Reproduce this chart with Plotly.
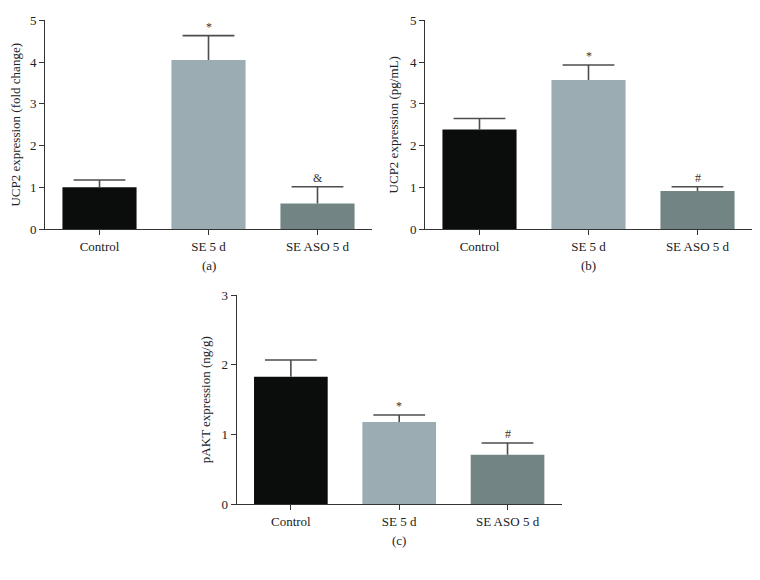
import plotly.graph_objects as go

categories = ["Control", "SE 5 d", "SE ASO 5 d"]
colors = ["#0b0d0c", "#9badb3", "#728584"]

a_values = [1.01, 4.05, 0.62]
a_err_top = [1.18, 4.63, 1.02]
a_marks = ["", "*", "&"]

b_values = [2.39, 3.57, 0.92]
b_err_top = [2.65, 3.93, 1.02]
b_marks = ["", "*", "#"]

c_values = [1.83, 1.18, 0.71]
c_err_top = [2.07, 1.28, 0.88]
c_marks = ["", "*", "#"]

a_ticks = [0, 1, 2, 3, 4, 5]
b_ticks = [0, 1, 2, 3, 4, 5]
c_ticks = [0, 1, 2, 3]

FONT = "Liberation Serif"
OFF = 8  # browser body margin
W, H = 760 - 2 * OFF, 580 - 2 * OFF
ERRC = "#4d4d4d"


def fx(p):
    return (p - OFF) / W


def fy(p):
    return 1 - (p - OFF) / H


fig = go.Figure()

panels = [
    ("x", "y", a_values, a_err_top, a_marks, a_ticks, "UCP2 expression (fold change)", "(a)",
     (45, 372), (13.3, 228.3)),
    ("x2", "y2", b_values, b_err_top, b_marks, b_ticks, "UCP2 expression (pg/mL)", "(b)",
     (425, 752), (13.3, 228.3)),
    ("x3", "y3", c_values, c_err_top, c_marks, c_ticks, "pAKT expression (ng/g)", "(c)",
     (236.7, 561.7), (295.7, 510.7)),
]

for i, (xa, ya, vals, errtop, marks, ticks, ytitle, letter, xpx, ypx) in enumerate(panels):
    up = [e - v for e, v in zip(errtop, vals)]
    fig.add_trace(go.Bar(
        x=categories, y=vals, xaxis=xa, yaxis=ya,
        marker=dict(color=colors, line=dict(width=0)),
        error_y=dict(type="data", symmetric=False, array=up, arrayminus=[0] * len(vals),
                     color=ERRC, thickness=1.6, width=0),
        showlegend=False, hoverinfo="skip",
    ))
    # caps of the error bars
    fig.add_trace(go.Scatter(
        x=categories, y=errtop, xaxis=xa, yaxis=ya, mode="markers",
        marker=dict(symbol="line-ew", size=37, color=ERRC, line=dict(width=1.6, color=ERRC)),
        showlegend=False, hoverinfo="skip", cliponaxis=False,
    ))
    suffix = "" if i == 0 else str(i + 1)
    xdom = [fx(xpx[0]), fx(xpx[1])]
    ydom = [fy(ypx[1]), fy(ypx[0])]
    fig.layout["xaxis" + suffix] = dict(
        domain=xdom, anchor=ya, range=[-0.5, 2.5], showline=True, linecolor="#333333",
        linewidth=1, ticks="outside", ticklen=5, tickcolor="#333333", showgrid=False,
        tickfont=dict(family=FONT, size=13, color="#222222"), fixedrange=True,
    )
    fig.layout["yaxis" + suffix] = dict(
        domain=ydom, anchor=xa, range=[0, ticks[-1]], tickvals=ticks, showline=True,
        linecolor="#333333", linewidth=1, ticks="outside", ticklen=5, tickcolor="#333333",
        showgrid=False, zeroline=False,
        tickfont=dict(family=FONT, size=13, color="#222222"),
        title=dict(text=ytitle, font=dict(family=FONT, size=13, color="#222222"), standoff=8),
    )
    for cat, e, m in zip(categories, errtop, marks):
        if m:
            fig.add_annotation(x=cat, y=e, xref=xa, yref=ya, text=m, showarrow=False,
                               yanchor="bottom", yshift=0,
                               font=dict(family=FONT, size=12, color="#333333"))
    cx = (xpx[0] + xpx[1]) / 2
    fig.add_annotation(x=fx(cx), y=fy(ypx[1] + 37), xref="paper", yref="paper",
                       text=letter, showarrow=False, yanchor="middle", xanchor="center",
                       font=dict(family=FONT, size=13, color="#222222"))

fig.update_layout(
    width=W, height=H, margin=dict(l=0, r=0, t=0, b=0),
    paper_bgcolor="white", plot_bgcolor="white", bargap=0.32,
)

fig.write_html("out.html")
